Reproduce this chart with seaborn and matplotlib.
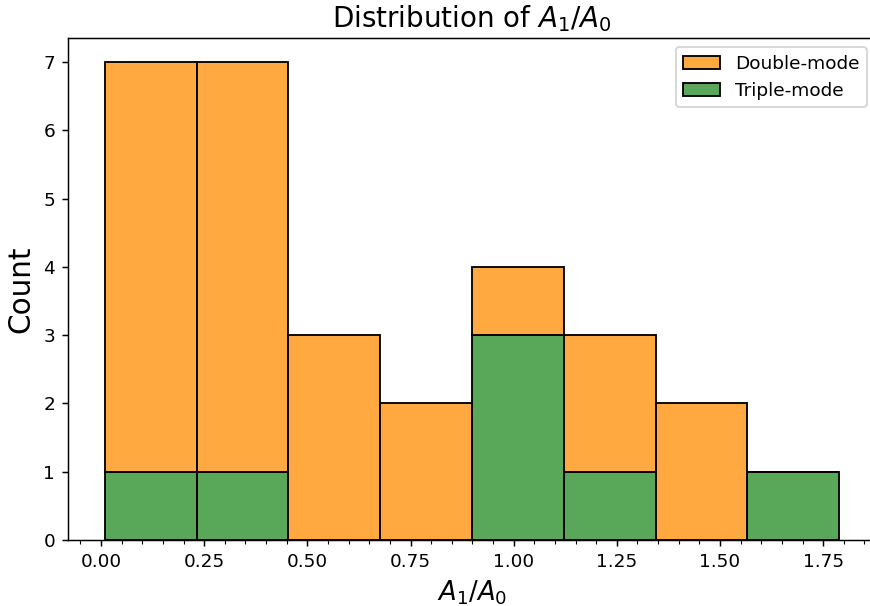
import numpy as np
import pandas as pd
import matplotlib
matplotlib.use("Agg")
import matplotlib.pyplot as plt
import seaborn as sns
from matplotlib.ticker import AutoMinorLocator

# Data (counts per bin)
bin_low = 0.009
bin_high = 1.789
n_bins = 8
double_counts = [6, 6, 3, 2, 1, 2, 2, 0]
triple_counts = [1, 1, 0, 0, 3, 1, 0, 1]
modes = ["Double-mode", "Triple-mode"]

edges = np.linspace(bin_low, bin_high, n_bins + 1)
centers = (edges[:-1] + edges[1:]) / 2
df = pd.DataFrame({
    "ratio": np.concatenate([centers, centers]),
    "weight": np.concatenate([double_counts, triple_counts]),
    "mode": [modes[0]] * n_bins + [modes[1]] * n_bins,
})

plt.rcParams["font.family"] = ["DejaVu Sans"]

DPI = 133
fig = plt.figure(figsize=(870 / DPI, 606 / DPI), dpi=DPI)
ax = fig.add_axes([68 / 870, 66 / 606, 808 / 870, 502 / 606])

sns.histplot(data=df, x="ratio", weights="weight", hue="mode",
             hue_order=modes, bins=list(edges), multiple="stack",
             palette={"Double-mode": "darkorange", "Triple-mode": "forestgreen"},
             alpha=0.75, edgecolor="black", linewidth=1.0, ax=ax)

ax.set_title("Distribution of $A_1/A_0$", fontsize=15)
ax.set_xlabel("$A_1/A_0$", fontsize=14)
ax.set_ylabel("Count", fontsize=16)
ax.tick_params(axis="both", labelsize=10)
ax.xaxis.set_minor_locator(AutoMinorLocator(5))
ax.set_ylim(0, 7.35)

sns.move_legend(ax, "upper right", title=None, fontsize=10)

fig.savefig("out.png", dpi=DPI)
